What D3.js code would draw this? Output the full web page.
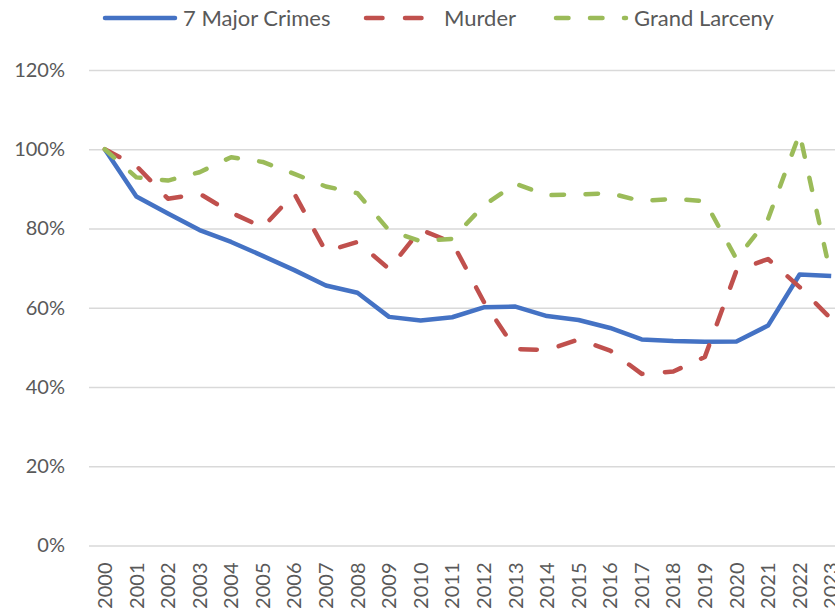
<!DOCTYPE html>
<html>
<head>
<meta charset="utf-8">
<script src="https://cdn.jsdelivr.net/npm/d3@7"></script>
<style>
    body { margin: 0; background: #fff; }
    text { font-family: Lato, "Open Sans", sans-serif; fill: #595959; }
</style>
</head>
<body>
<div id="chart"></div>
<script>
// Index values, 2000 = 100%
const years = ["2000", "2001", "2002", "2003", "2004", "2005", "2006", "2007", "2008", "2009", "2010", "2011",
    "2012", "2013", "2014", "2015", "2016", "2017", "2018", "2019", "2020", "2021", "2022", "2023"];
const majorCrimes = [100, 88.1, 83.8, 79.6, 76.6, 73.1, 69.5, 65.6, 63.8, 57.7, 56.8, 57.6,
    60.1, 60.3, 57.9, 56.9, 54.9, 52.0, 51.6, 51.4, 51.5, 55.5, 68.4, 68.0];
const murder = [100, 95.8, 87.5, 88.8, 84.0, 80.3, 88.8, 74.2, 76.6, 69.8, 79.7, 76.5,
    61.5, 49.6, 49.3, 52.0, 49.2, 43.3, 43.9, 47.6, 69.4, 72.3, 65.2, 57.2];
const grandLarceny = [100, 92.9, 92.1, 94.2, 98.0, 96.8, 93.8, 90.6, 88.9, 79.5, 76.8, 77.4,
    85.8, 91.3, 88.4, 88.6, 88.9, 86.9, 87.5, 86.9, 72.3, 82.4, 104.0, 67.7];
const yTicks = [0, 20, 40, 60, 80, 100, 120];

const series = [
    { name: "7 Major Crimes", values: majorCrimes, color: "#4472C4", dash: null },
    { name: "Murder", values: murder, color: "#C0504D", dash: "16.5,22.5" },
    { name: "Grand Larceny", values: grandLarceny, color: "#9BBB59", dash: "12.5,21.5" }
];

const svgWidth = 835;
const svgHeight = 611;
const plot = { left: 89, right: 847, top: 70, bottom: 545.5 };

const svg = d3.select("#chart")
    .append("svg")
    .attr("width", svgWidth)
    .attr("height", svgHeight);

const xScale = d3.scaleBand()
    .domain(years)
    .range([plot.left, plot.right])
    .padding(0);

const yScale = d3.scaleLinear()
    .domain([0, 120])
    .range([plot.bottom, plot.top]);

const xPos = d => xScale(d) + xScale.bandwidth() / 2;

// gridlines + y labels
const yAxis = svg.append("g")
    .attr("transform", `translate(${plot.left},0)`)
    .call(d3.axisLeft(yScale)
        .tickValues(yTicks)
        .tickSize(-(plot.right - plot.left))
        .tickPadding(24)
        .tickFormat(d => d + "%"));

yAxis.select(".domain").remove();
yAxis.selectAll(".tick line")
    .attr("stroke", "#D9D9D9")
    .attr("stroke-width", 1.3);
yAxis.selectAll(".tick text")
    .attr("font-size", "20px")
    .attr("fill", "#595959");

// x labels, rotated
svg.append("g")
    .selectAll("text")
    .data(years)
    .enter().append("text")
    .attr("transform", d => `translate(${xPos(d)},562.5) rotate(-90)`)
    .attr("text-anchor", "end")
    .attr("dy", "0.36em")
    .attr("font-size", "20px")
    .text(d => d);

// lines
const line = d3.line()
    .x((d, i) => xPos(years[i]))
    .y(d => yScale(d));

series.forEach(s => {
    svg.append("path")
        .datum(s.values)
        .attr("fill", "none")
        .attr("stroke", s.color)
        .attr("stroke-width", 4.5)
        .attr("stroke-linejoin", "round")
        .attr("stroke-linecap", s.dash ? "round" : "butt")
        .attr("stroke-dasharray", s.dash)
        .attr("d", line);
});

// legend
const legendX = [105, 366, 556];
const legend = svg.append("g");

series.forEach((s, i) => {
    legend.append("line")
        .attr("x1", legendX[i])
        .attr("x2", legendX[i] + 70)
        .attr("y1", 18)
        .attr("y2", 18)
        .attr("stroke", s.color)
        .attr("stroke-width", 4.5)
        .attr("stroke-linecap", "round")
        .attr("stroke-dasharray", s.dash);

    legend.append("text")
        .attr("x", legendX[i] + 78)
        .attr("y", 18)
        .attr("dy", "0.35em")
        .attr("font-size", "22px")
        .text(s.name);
});
</script>
</body>
</html>
